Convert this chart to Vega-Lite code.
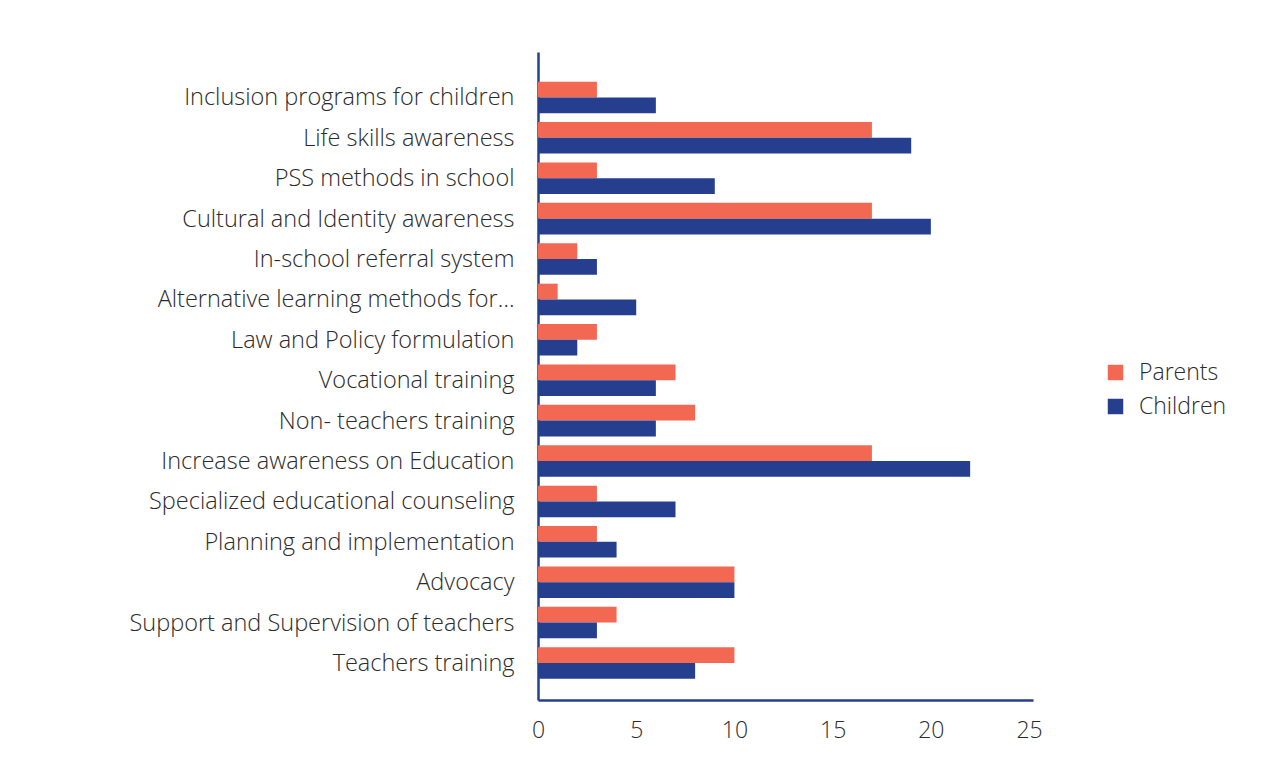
{
  "$schema": "https://vega.github.io/schema/vega-lite/v6.json",
  "autosize": "none",
  "width": 495,
  "height": 648,
  "padding": {"left": 538, "top": 52, "right": 248, "bottom": 78},
  "background": "white",
  "data": {
    "values": [
      {"category": "Inclusion programs for children", "group": "Parents", "value": 3},
      {"category": "Inclusion programs for children", "group": "Children", "value": 6},
      {"category": "Life skills awareness", "group": "Parents", "value": 17},
      {"category": "Life skills awareness", "group": "Children", "value": 19},
      {"category": "PSS methods in school", "group": "Parents", "value": 3},
      {"category": "PSS methods in school", "group": "Children", "value": 9},
      {"category": "Cultural and Identity awareness", "group": "Parents", "value": 17},
      {"category": "Cultural and Identity awareness", "group": "Children", "value": 20},
      {"category": "In-school referral system", "group": "Parents", "value": 2},
      {"category": "In-school referral system", "group": "Children", "value": 3},
      {"category": "Alternative learning methods for…", "group": "Parents", "value": 1},
      {"category": "Alternative learning methods for…", "group": "Children", "value": 5},
      {"category": "Law and Policy formulation", "group": "Parents", "value": 3},
      {"category": "Law and Policy formulation", "group": "Children", "value": 2},
      {"category": "Vocational training", "group": "Parents", "value": 7},
      {"category": "Vocational training", "group": "Children", "value": 6},
      {"category": "Non- teachers training", "group": "Parents", "value": 8},
      {"category": "Non- teachers training", "group": "Children", "value": 6},
      {"category": "Increase awareness on Education", "group": "Parents", "value": 17},
      {"category": "Increase awareness on Education", "group": "Children", "value": 22},
      {"category": "Specialized educational counseling", "group": "Parents", "value": 3},
      {"category": "Specialized educational counseling", "group": "Children", "value": 7},
      {"category": "Planning and implementation", "group": "Parents", "value": 3},
      {"category": "Planning and implementation", "group": "Children", "value": 4},
      {"category": "Advocacy", "group": "Parents", "value": 10},
      {"category": "Advocacy", "group": "Children", "value": 10},
      {"category": "Support and Supervision of teachers", "group": "Parents", "value": 4},
      {"category": "Support and Supervision of teachers", "group": "Children", "value": 3},
      {"category": "Teachers training", "group": "Parents", "value": 10},
      {"category": "Teachers training", "group": "Children", "value": 8}
    ]
  },
  "mark": {"type": "bar"},
  "encoding": {
    "y": {
      "field": "category",
      "type": "nominal",
      "sort": null,
      "scale": {"paddingInner": 0.22, "paddingOuter": 0.63, "align": 0.583},
      "axis": {
        "title": null,
        "ticks": false,
        "labelPadding": 24,
        "labelOffset": 1,
        "labelFontSize": 23.5,
        "labelFont": "Open Sans",
        "labelFontWeight": 300,
        "labelColor": "#2b2b2b",
        "labelLimit": 600,
        "domainColor": "#253F8E",
        "domainWidth": 2.5,
        "grid": false
      }
    },
    "yOffset": {"field": "group", "type": "nominal", "sort": ["Parents", "Children"]},
    "x": {
      "field": "value",
      "type": "quantitative",
      "scale": {"domain": [0, 25.2], "nice": false},
      "axis": {
        "title": null,
        "values": [0, 5, 10, 15, 20, 25],
        "ticks": false,
        "grid": false,
        "labelPadding": 19,
        "labelFontSize": 23,
        "labelFont": "Open Sans",
        "labelFontWeight": 300,
        "labelColor": "#2b2b2b",
        "domainColor": "#253F8E",
        "domainWidth": 2.5,
        "labelFlush": false
      }
    },
    "color": {
      "field": "group",
      "type": "nominal",
      "scale": {"domain": ["Parents", "Children"], "range": ["#F26852", "#253F8E"]},
      "legend": {
        "title": null,
        "orient": "none",
        "legendX": 566,
        "legendY": 309,
        "symbolType": "square",
        "symbolSize": 240,
        "symbolStrokeWidth": 0,
        "labelFontSize": 23,
        "labelFont": "Open Sans",
        "labelFontWeight": 300,
        "labelColor": "#2b2b2b",
        "labelOffset": 12,
        "rowPadding": 10
      }
    }
  },
  "config": {"view": {"stroke": null}}
}
